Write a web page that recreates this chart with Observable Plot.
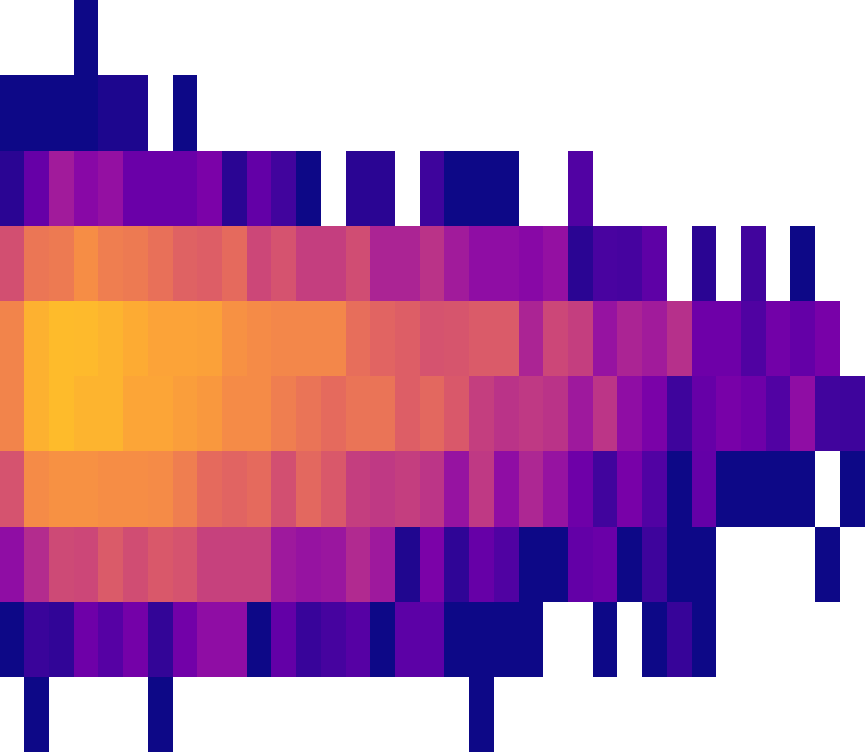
<!DOCTYPE html>
<html>
<head>
<meta charset="utf-8">
<style>html,body{margin:0;padding:0;background:#fff;overflow:hidden}svg{display:block}</style>
<script src="https://cdn.jsdelivr.net/npm/d3@7"></script>
<script src="https://cdn.jsdelivr.net/npm/@observablehq/plot@0.6"></script>
</head>
<body>
<div id="chart"></div>
<script>
const _ = null;
const row0 = [_,_,_,0];
const row1 = [0,0,0,0,.025,.025,_,0];
const row2 = [.05,.19,.35,.28,.31,.2,.2,.2,.245,.05,.18,.1,0,_,.05,.05,_,.09,0,0,0,_,_,.14];
const row3 = [.53,.66,.67,.73,.68,.67,.64,.59,.58,.62,.5,.54,.47,.47,.52,.38,.38,.43,.35,.3,.3,.28,.31,.05,.12,.11,.17,_,.05,_,.1,_,0];
const row4 = [.7,.825,.855,.85,.835,.81,.79,.79,.785,.74,.72,.71,.71,.71,.63,.6,.58,.54,.55,.57,.57,.38,.5,.47,.32,.38,.35,.42,.21,.21,.135,.22,.185,.235];
const row5 = [.7,.825,.855,.835,.835,.795,.795,.775,.76,.72,.72,.68,.65,.62,.65,.65,.58,.61,.56,.47,.43,.45,.43,.34,.44,.3,.24,.09,.19,.235,.21,.14,.3,.1,.09];
const row6 = [.54,.72,.74,.74,.73,.73,.72,.68,.62,.6,.62,.53,.61,.56,.47,.45,.47,.44,.32,.45,.3,.39,.32,.21,.1,.235,.14,0,.185,0,0,0,0,_,0];
const row7 = [.3,.41,.51,.5,.57,.52,.56,.54,.48,.48,.48,.34,.32,.33,.4,.34,.03,.245,.06,.19,.135,0,0,.18,.2,0,.09,0,0,_,_,_,_,0];
const row8 = [0,.085,.065,.21,.15,.225,.07,.22,.3,.3,0,.18,.08,.11,.15,0,.165,.165,0,0,0,0,_,_,0,_,0,.075,0];
const row9 = [_,0,_,_,_,_,0,_,_,_,_,_,_,_,_,_,_,_,_,0];
const rows = [row0,row1,row2,row3,row4,row5,row6,row7,row8,row9];
const columns = d3.range(35);
const rowIds = d3.range(10);

const cells = rows.flatMap((r, y) => r.map((v, x) => ({x, y, v})).filter(d => d.v !== null));

const plot = Plot.plot({
  width: 865,
  height: 752,
  margin: 0,
  x: {type: "band", domain: columns, padding: 0, axis: null, round: false},
  y: {type: "band", domain: rowIds, padding: 0, axis: null, round: false},
  color: {type: "linear", scheme: "plasma", domain: [0, 1]},
  marks: [
    Plot.cell(cells, {x: "x", y: "y", fill: "v", inset: 0, dx: -0.45, dy: 0.11, shapeRendering: "crispEdges"})
  ]
});
document.getElementById("chart").append(plot);
</script>
</body>
</html>
